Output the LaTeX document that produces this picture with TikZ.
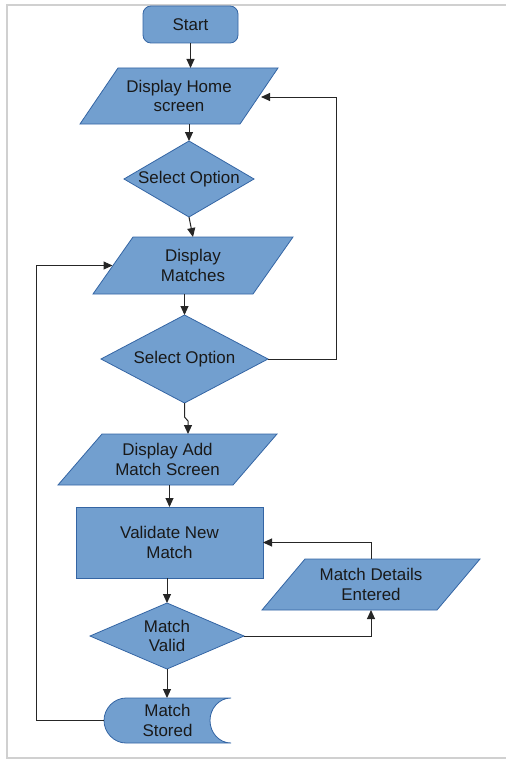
\documentclass[tikz,border=0pt]{standalone}
\usepackage{fontspec}
\setmainfont{Liberation Sans}
\usetikzlibrary{arrows.meta,calc}
\definecolor{boxfill}{HTML}{729FCF}
\definecolor{boxline}{HTML}{3465A4}
\definecolor{framegrey}{HTML}{D0D0D0}
\pgfdeclarelayer{bg}
\pgfsetlayers{bg,main}
\tikzset{
  shapefill/.style={fill=boxfill, draw=boxline, line width=0.8bp, line join=miter},
  txt/.style={inner sep=0pt, outer sep=0pt, align=center, font=\fontsize{17}{19.5}\selectfont, text=black!90},
  holder/.style={txt, rectangle},
  conn/.style={draw=black!85, line width=1bp},
  arr/.style={conn, -{Triangle[length=9bp,width=8bp]}},
}
\begin{document}
\begin{tikzpicture}[x=1bp,y=-1bp]
\useasboundingbox (0,0) rectangle (506,760);
\draw[framegrey, line width=1.2bp] (506,5) -- (7,5) -- (7,758) -- (506,758);

% nodes
\node[holder, shapefill, rounded corners=8bp, minimum width=95bp, minimum height=37bp] (start) at (190.5,24.5) {Start};
\node[holder, minimum width=198bp, minimum height=56bp] (dh) at (179,96) {Display Home\\screen};
\node[holder, minimum width=130bp, minimum height=76bp] (d1) at (189,179) {Select Option};
\node[holder, minimum width=200bp, minimum height=57bp] (dm) at (193,265.5) {Display\\Matches};
\node[holder, minimum width=167bp, minimum height=88bp] (d2) at (184.5,359) {Select Option};
\node[holder, minimum width=219bp, minimum height=51bp] (da) at (167.5,459.5) {Display Add\\Match Screen};
\node[holder, shapefill, minimum width=187bp, minimum height=71bp] (val) at (169.5,542.5) {Validate New\\Match};
\node[holder, minimum width=154bp, minimum height=66bp] (d3) at (167,636) {Match\\Valid};
\node[holder, minimum width=218bp, minimum height=51bp] (md) at (371,584.5) {Match Details\\Entered};
\node[holder, minimum width=127bp, minimum height=45bp] (ms) at (167.5,720.5) {Match\\Stored};

% shapes behind the texts
\begin{pgfonlayer}{bg}
\path[shapefill] ($(dh.north west)+(38,0)$) -- (dh.north east) -- ($(dh.south east)+(-38,0)$) -- (dh.south west) -- cycle;
\path[shapefill] (d1.north) -- (d1.east) -- (d1.south) -- (d1.west) -- cycle;
\path[shapefill] ($(dm.north west)+(40,0)$) -- (dm.north east) -- ($(dm.south east)+(-40,0)$) -- (dm.south west) -- cycle;
\path[shapefill] (d2.north) -- (d2.east) -- (d2.south) -- (d2.west) -- cycle;
\path[shapefill] ($(da.north west)+(44,0)$) -- (da.north east) -- ($(da.south east)+(-44,0)$) -- (da.south west) -- cycle;
\path[shapefill] (d3.north) -- (d3.east) -- (d3.south) -- (d3.west) -- cycle;
\path[shapefill] ($(md.north west)+(43,0)$) -- (md.north east) -- ($(md.south east)+(-43,0)$) -- (md.south west) -- cycle;
\path[shapefill] ($(ms.north west)+(22,0)$) -- (ms.north east)
  .. controls ($(ms.north east)+(-12,0)$) and ($(ms.east)+(-21,-12)$) .. ($(ms.east)+(-21,0)$)
  .. controls ($(ms.east)+(-21,12)$) and ($(ms.south east)+(-12,0)$) .. (ms.south east)
  -- ($(ms.south west)+(22,0)$)
  .. controls ($(ms.south west)+(10,0)$) and ($(ms.west)+(0,12)$) .. (ms.west)
  .. controls ($(ms.west)+(0,-12)$) and ($(ms.north west)+(10,0)$) .. ($(ms.north west)+(22,0)$) -- cycle;
\end{pgfonlayer}

% connectors
\draw[arr] (start.south) -- (start.south |- dh.north);
\draw[arr] (d1.north |- dh.south) -- (d1.north);
\draw[arr] (d1.south) -- (dm.north);
\draw[arr] (d2.north |- dm.south) -- (d2.north);
\draw[arr] (d2.east) -- ++(68,0) |- ($(dh.east)+(-17,1)$);
\draw[arr] (d2.south) -- ++(0,14) -- ++(3.5,4) -- ($(d2.south |- da.north)+(3.5,0)$);
\draw[arr] (val.north |- da.south) -- (val.north);
\draw[arr] (d3.north |- val.south) -- (d3.north);
\draw[arr] (d3.east) -| (md.south);
\draw[arr] (md.north) |- (val.east);
\draw[arr] (d3.south) -- (d3.south |- ms.north);
\draw[arr] (ms.west) -- ++(-67,0) |- ($(dm.west)+(19.5,0)$);
\end{tikzpicture}
\end{document}
